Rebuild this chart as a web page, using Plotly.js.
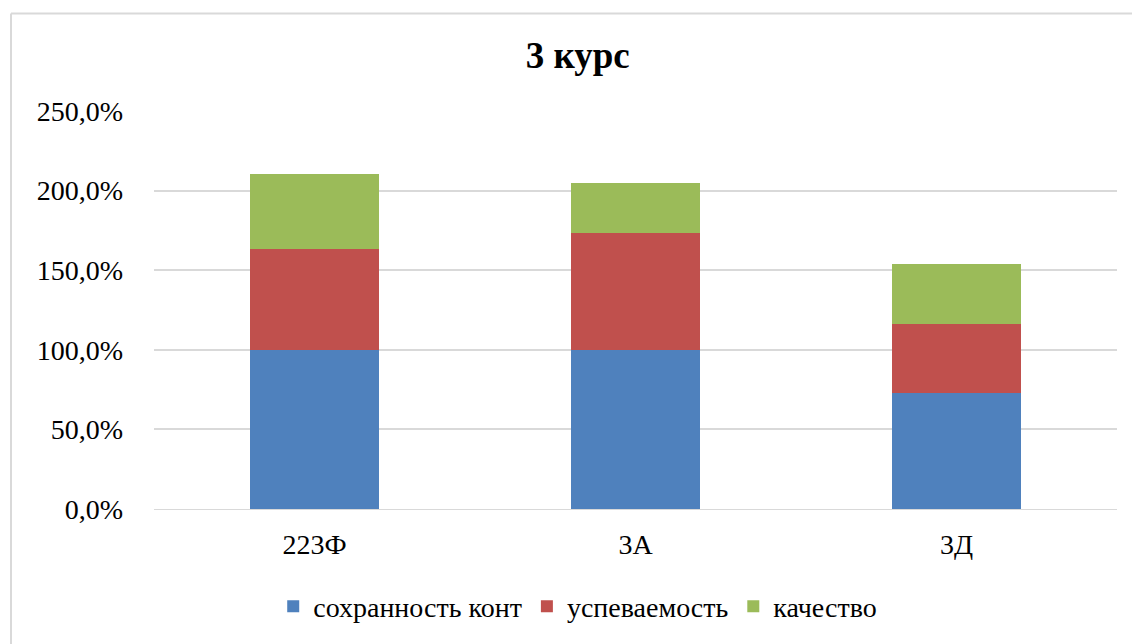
<!DOCTYPE html>
<html>
<head>
<meta charset="utf-8">
<script src="https://cdn.plot.ly/plotly-3.0.1.min.js"></script>
</head>
<body style="margin:0;padding:0;background:#fff">
<div id="chart"></div>
<script>
const categories = ['223Ф', '3А', '3Д'];
const seriesNames = ['сохранность конт', 'успеваемость', 'качество'];
const sohrannost = [1.000, 1.000, 0.729];
const uspevaemost = [0.631, 0.735, 0.435];
const kachestvo = [0.471, 0.315, 0.373];
const colors = ['#4f81bd', '#c0504d', '#9bbb59'];
const tickVals = [0, 0.5, 1.0, 1.5, 2.0, 2.5];
const tickText = ['0,0%', '50,0%', '100,0%', '150,0%', '200,0%', '250,0%'];

const values = [sohrannost, uspevaemost, kachestvo];
const traces = values.map((v, i) => ({
  type: 'bar', x: categories, y: v, name: seriesNames[i],
  marker: {color: colors[i], line: {width: 0}},
  hoverinfo: 'none'
}));

const layout = {
  width: 1132, height: 644,
  margin: {l: 154, r: 15, t: 111, b: 133},
  paper_bgcolor: '#ffffff', plot_bgcolor: '#ffffff',
  barmode: 'stack', bargap: 0.6,
  font: {family: 'Times New Roman', size: 28, color: '#000000'},
  title: {text: '<b>3 курс</b>', x: 0.44, xref: 'paper', xanchor: 'center', y: 0.915, yanchor: 'middle',
          font: {family: 'Times New Roman', size: 37, color: '#000000'}},
  xaxis: {type: 'category', showgrid: false, zeroline: false, showline: true, linecolor: '#d9d9d9', linewidth: 1,
          ticks: '', ticklabelstandoff: 10, tickfont: {family: 'Times New Roman', size: 28, color: '#000000'}},
  yaxis: {range: [0, 2.5], tickvals: tickVals, ticktext: tickText, showgrid: true, gridcolor: '#d9d9d9', gridwidth: 2,
          zeroline: false, showline: false, ticks: '', ticklabelstandoff: 30,
          tickfont: {family: 'Times New Roman', size: 28, color: '#000000'}},
  showlegend: true,
  legend: {orientation: 'h', x: 0.44, xanchor: 'center', y: -0.245, yanchor: 'middle',
           traceorder: 'normal', itemwidth: 30, font: {family: 'Times New Roman', size: 28, color: '#000000'}},
  shapes: [
    {type: 'line', xref: 'paper', yref: 'paper', x0: -0.1485, x1: 1.02, y0: 1.245, y1: 1.245, line: {color: '#d9d9d9', width: 2}},
    {type: 'line', xref: 'paper', yref: 'paper', x0: -0.1485, x1: -0.1485, y0: 1.245, y1: -0.34, line: {color: '#d9d9d9', width: 2}}
  ],
  hovermode: false
};
Plotly.newPlot('chart', traces, layout, {displayModeBar: false});
</script>
</body>
</html>
